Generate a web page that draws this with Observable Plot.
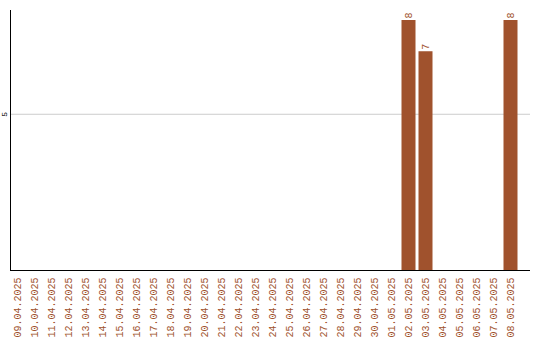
<!DOCTYPE html>
<html>
<head>
<meta charset="utf-8">
<script src="https://cdn.jsdelivr.net/npm/d3@7"></script>
<script src="https://cdn.jsdelivr.net/npm/@observablehq/plot@0.6"></script>
<style>
  html, body { margin: 0; padding: 0; background: #fff; }
  #chart svg { display: block; }
</style>
</head>
<body>
<div id="chart"></div>
<script>
// Daily counts, 09.04.2025 – 08.05.2025
const dates = [
  "09.04.2025", "10.04.2025", "11.04.2025", "12.04.2025", "13.04.2025",
  "14.04.2025", "15.04.2025", "16.04.2025", "17.04.2025", "18.04.2025",
  "19.04.2025", "20.04.2025", "21.04.2025", "22.04.2025", "23.04.2025",
  "24.04.2025", "25.04.2025", "26.04.2025", "27.04.2025", "28.04.2025",
  "29.04.2025", "30.04.2025", "01.05.2025", "02.05.2025", "03.05.2025",
  "04.05.2025", "05.05.2025", "06.05.2025", "07.05.2025", "08.05.2025"
];
const counts = [
  0, 0, 0, 0, 0, 0, 0, 0, 0, 0,
  0, 0, 0, 0, 0, 0, 0, 0, 0, 0,
  0, 0, 0, 8, 7, 0, 0, 0, 0, 8
];
const yTicks = [5];

const rows = dates.map((date, i) => ({date, count: counts[i]}));
const barColor = "#a0522d";
const mono = "Liberation Mono";

const chart = Plot.plot({
  width: 540,
  height: 340,
  marginTop: 10,
  marginLeft: 10,
  marginRight: 10,
  marginBottom: 70,
  style: {background: "#fff"},
  x: {domain: dates, range: [8.5, 518.5], padding: 0, axis: null},
  y: {domain: [0, 8.32], axis: null},
  marks: [
    Plot.ruleY(yTicks, {stroke: "#cccccc", strokeWidth: 1}),
    Plot.text(yTicks, {
      y: d => d, text: d => String(d), frameAnchor: "left", dx: -6,
      rotate: -90, textAnchor: "middle", fontSize: 8, fontFamily: mono, fill: "#000"
    }),
    Plot.barY(rows.filter(d => d.count > 0), {
      x: "date", y: "count", fill: barColor, insetLeft: 1.5, insetRight: 1.5
    }),
    Plot.text(rows.filter(d => d.count > 0), {
      x: "date", y: "count", text: d => String(d.count), rotate: -90,
      textAnchor: "start", dy: -2, fontSize: 10, fontFamily: mono, fill: barColor
    }),
    Plot.axisX({
      tickSize: 0, tickPadding: 7, tickRotate: -90, fontSize: 10,
      fontFamily: mono, color: barColor, label: null
    }),
    Plot.ruleY([0], {stroke: "#000", strokeWidth: 1}),
    Plot.frame({anchor: "left", stroke: "#000", strokeWidth: 1})
  ]
});

document.getElementById("chart").append(chart);
</script>
</body>
</html>
